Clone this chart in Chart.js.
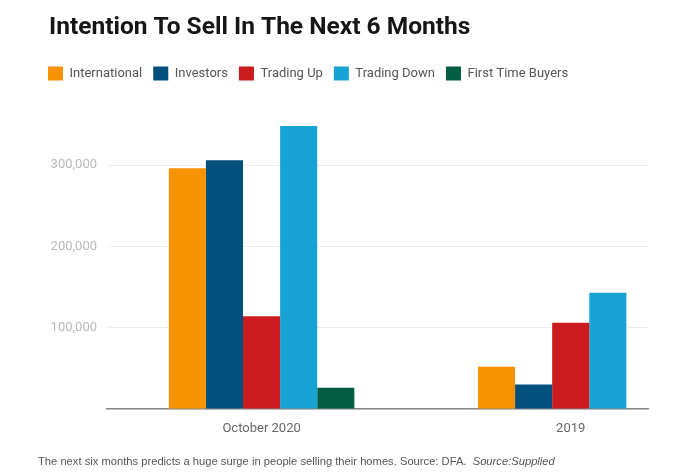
<!DOCTYPE html>
<html>
<head>
<meta charset="utf-8">
<script src="https://cdn.jsdelivr.net/npm/chart.js@4.4.1/dist/chart.umd.min.js"></script>
<style>
  html, body { margin: 0; padding: 0; background: #fff; }
  #wrap { position: relative; width: 678px; height: 476px; overflow: hidden; }
  #caption { position: absolute; left: 38px; top: 455px; font: 11.2px "Liberation Sans", Arial, sans-serif; color: #555; white-space: nowrap; }
</style>
</head>
<body>
<div id="wrap">
  <canvas id="c" width="678" height="476"></canvas>
  <div id="caption">The next six months predicts a huge surge in people selling their homes. Source: DFA.&nbsp; <i>Source:Supplied</i></div>
</div>
<script>
const categories = ['October 2020', '2019'];
const seriesNames = ['International', 'Investors', 'Trading Up', 'Trading Down', 'First Time Buyers'];
const international = [296000, 52000];
const investors = [306000, 30000];
const tradingUp = [114000, 106000];
const tradingDown = [348000, 143000];
const firstTimeBuyers = [26000, null];
const yTicks = [0, 100000, 200000, 300000];
const colors = ['#f79200', '#01507c', '#cb1b1f', '#17a4d4', '#015e42'];

const seriesValues = [international, investors, tradingUp, tradingDown, firstTimeBuyers];
const datasets = seriesNames.map((name, i) => ({
  label: name,
  data: seriesValues[i].map((v, j) => ({ x: j, y: v })),
  backgroundColor: colors[i],
  borderWidth: 0,
  categoryPercentage: 0.6,
  barPercentage: 1.0
}));

const layoutTweaks = {
  id: 'layoutTweaks',
  beforeInit(chart) {
    const origFit = chart.legend.fit;
    chart.legend.fit = function () {
      origFit.call(this);
      this.height += 34;
    };
    const tb = chart.titleBlock;
    if (tb) {
      const origDraw = tb.draw;
      tb.draw = function () {
        const ctx = this.ctx;
        ctx.save();
        ctx.translate(12, 0);
        origDraw.call(this);
        ctx.restore();
      };
    }
  }
};

new Chart(document.getElementById('c'), {
  type: 'bar',
  data: { datasets },
  plugins: [layoutTweaks],
  options: {
    responsive: false,
    devicePixelRatio: 1,
    animation: false,
    layout: { padding: { left: 37, right: 30, top: 0, bottom: 0 } },
    plugins: {
      title: {
        display: true,
        text: 'Intention To Sell In The Next 6 Months',
        align: 'start',
        color: '#161616',
        font: { family: 'Roboto', size: 24.5, weight: '700' },
        padding: { top: 13, bottom: 13 }
      },
      legend: {
        align: 'start',
        labels: {
          boxWidth: 15,
          boxHeight: 14,
          padding: 11,
          color: '#555',
          font: { family: 'Roboto', size: 13 }
        }
      },
      tooltip: { enabled: false }
    },
    scales: {
      x: {
        type: 'linear',
        min: -0.5,
        max: 1.25,
        offset: false,
        afterBuildTicks(scale) { scale.ticks = categories.map((_, i) => ({ value: i })); },
        afterFit(scale) { scale.height = 67; },
        ticks: {
          callback: (v) => categories[v] ?? '',
          color: '#666',
          font: { family: 'Roboto', size: 13 },
          padding: 12,
          maxRotation: 0,
          autoSkip: false
        },
        grid: { display: true, drawOnChartArea: false, drawTicks: false },
        border: { display: true, color: '#888', width: 1.5 }
      },
      y: {
        min: 0,
        max: 350000,
        afterBuildTicks(scale) { scale.ticks = yTicks.map(v => ({ value: v })); },
        afterFit(scale) { scale.width = 70; },
        ticks: {
          callback: (v) => v === 0 ? '' : v.toLocaleString('en-US'),
          color: '#b8b8b8',
          font: { family: 'Roboto', size: 13 },
          padding: 10
        },
        grid: { color: '#ececec', drawTicks: false },
        border: { display: false }
      }
    }
  }
});
</script>
</body>
</html>
